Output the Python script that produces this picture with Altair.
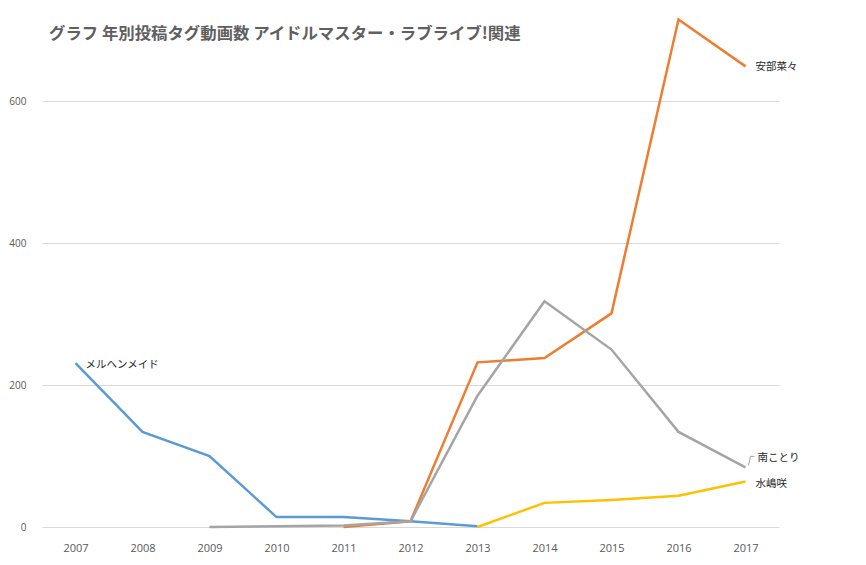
import altair as alt
import pandas as pd

title_text = "グラフ 年別投稿タグ動画数 アイドルマスター・ラブライブ!関連"
years = [2007, 2008, 2009, 2010, 2011, 2012, 2013, 2014, 2015, 2016, 2017]
series_names = ["メルヘンメイド", "安部菜々", "南ことり", "水嶋咲"]
series_colors = ["#5B9BD5", "#ED7D31", "#A5A5A5", "#FFC000"]

marchen_years = [2007, 2008, 2009, 2010, 2011, 2012, 2013]
marchen_vals = [231, 134, 100, 14, 14, 8, 1]

abe_years = [2011, 2012, 2013, 2014, 2015, 2016, 2017]
abe_vals = [0, 8, 232, 238, 301, 715, 649]

kotori_years = [2009, 2010, 2011, 2012, 2013, 2014, 2015, 2016, 2017]
kotori_vals = [0, 1, 2, 8, 185, 318, 250, 134, 84]

mizushima_years = [2013, 2014, 2015, 2016, 2017]
mizushima_vals = [0, 34, 38, 44, 64]

y_ticks = [0, 200, 400, 600]

series_data = [
    (series_names[0], marchen_years, marchen_vals),
    (series_names[1], abe_years, abe_vals),
    (series_names[2], kotori_years, kotori_vals),
    (series_names[3], mizushima_years, mizushima_vals),
]

rows = []
for name, ys, vs in series_data:
    for yr, v in zip(ys, vs):
        rows.append({"series": name, "year": str(yr), "value": v})
df = pd.DataFrame(rows)

FONT_JP = "Noto Sans CJK JP"

x_enc = alt.X(
    "year:O",
    scale=alt.Scale(type="point", domain=[str(y) for y in years], padding=0.5),
    axis=alt.Axis(
        title=None, labelAngle=0, ticks=False, tickSize=0, domain=False,
        labelPadding=15, labelFontSize=11, labelColor="#595959",
        labelFont="Open Sans", grid=False,
    ),
)
y_enc = alt.Y(
    "value:Q",
    scale=alt.Scale(domain=[0, 720], nice=False),
    axis=alt.Axis(
        title=None, values=y_ticks, ticks=False, tickSize=0, domain=False,
        grid=True, gridColor="#d9d9d9", gridWidth=1,
        labelPadding=16, labelFontSize=10, labelColor="#595959",
        labelFont="Open Sans", minExtent=33, maxExtent=33,
    ),
)

lines = alt.Chart(df).mark_line(strokeWidth=2.5).encode(
    x=x_enc,
    y=y_enc,
    color=alt.Color(
        "series:N",
        scale=alt.Scale(domain=series_names, range=series_colors),
        legend=None,
    ),
    detail="series:N",
)

label_specs = [
    (series_names[0], marchen_years[0], marchen_vals[0], 10, 2),
    (series_names[1], abe_years[-1], abe_vals[-1], 10, 1),
    (series_names[2], kotori_years[-1], kotori_vals[-1], 12, -9),
    (series_names[3], mizushima_years[-1], mizushima_vals[-1], 10, 2),
]

layers = [lines]
for name, yr, v, dx, dy in label_specs:
    ldf = pd.DataFrame({"series": [name], "year": [str(yr)], "value": [v]})
    layers.append(
        alt.Chart(ldf).mark_text(
            align="left", baseline="middle", dx=dx, dy=dy,
            font=FONT_JP, fontSize=10.5, color="#262626",
        ).encode(x=alt.X("year:O"), y=alt.Y("value:Q"), text="series:N")
    )

# small leader line for 南ことり label
kdf = pd.DataFrame({"year": [str(kotori_years[-1])], "value": [kotori_vals[-1]]})
layers.append(
    alt.Chart(kdf).mark_rule(
        color="#A5A5A5", strokeWidth=1,
        xOffset=3, yOffset=-2, x2Offset=5, y2Offset=-11,
    ).encode(x="year:O", x2="year:O", y="value:Q", y2="value:Q")
)
layers.append(
    alt.Chart(kdf).mark_rule(
        color="#A5A5A5", strokeWidth=1,
        xOffset=5, yOffset=-11, x2Offset=9, y2Offset=-11,
    ).encode(x="year:O", x2="year:O", y="value:Q", y2="value:Q")
)

title_layer = alt.Chart(pd.DataFrame({"t": [title_text]})).mark_text(
    align="left", baseline="middle", font=FONT_JP, fontSize=16.4,
    fontWeight="bold", color="#606060",
).encode(text="t:N", x=alt.value(7), y=alt.value(18))
layers.append(title_layer)

chart = alt.layer(*layers).properties(
    width=737, height=511,
    padding={"top": 6, "left": 0, "right": 0, "bottom": 0},
    background="white",
).configure_view(stroke=None)

chart.save("out.html", embed_options={"renderer": "svg", "actions": False})
